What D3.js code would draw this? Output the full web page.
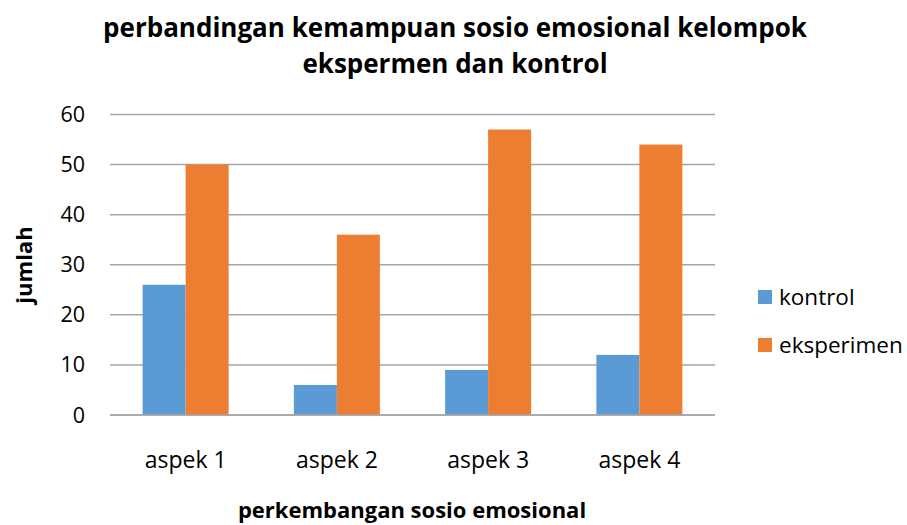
<html lang='id'>
<head>
    <title>perbandingan kemampuan sosio emosional</title>
    <script src="https://d3js.org/d3.v7.min.js"></script>
    <style>
        body { margin: 0; background: #fff; }
        text { font-family: 'Open Sans', sans-serif; fill: #000; }
    </style>
</head>
<body>
<script>
    // data
    var categories = ['aspek 1', 'aspek 2', 'aspek 3', 'aspek 4'];
    var seriesNames = ['kontrol', 'eksperimen'];
    var kontrol = [26, 6, 9, 12];
    var eksperimen = [50, 36, 57, 54];
    var yTicks = [0, 10, 20, 30, 40, 50, 60];
    var colors = ['#5B9BD5', '#ED7D31'];

    // canvas
    var width = 907, height = 525;
    var plot = { left: 110, right: 715, top: 114.5, bottom: 415 };

    var svg = d3.select('body').append('svg')
        .attr('width', width).attr('height', height);

    var x0 = d3.scaleBand().domain(categories)
        .range([plot.left, plot.right]).paddingInner(0.4314).paddingOuter(0.2157);
    var x1 = d3.scaleBand().domain(seriesNames).range([0, x0.bandwidth()]);
    var y = d3.scaleLinear().domain([0, 60]).range([plot.bottom, plot.top]);

    // gridlines
    svg.append('g').selectAll('line').data(yTicks).enter().append('line')
        .attr('x1', plot.left).attr('x2', plot.right)
        .attr('y1', function (d) { return y(d); }).attr('y2', function (d) { return y(d); })
        .attr('stroke', '#a6a6a6').attr('stroke-width', 1.5);

    // y axis labels
    svg.append('g').selectAll('text').data(yTicks).enter().append('text')
        .attr('x', 85).attr('y', function (d) { return y(d); })
        .attr('dy', '0.35em').attr('text-anchor', 'end')
        .attr('font-size', 21.5).text(function (d) { return d; });

    // bars
    var rows = categories.map(function (c, i) {
        return { cat: c, vals: [kontrol[i], eksperimen[i]] };
    });
    var groups = svg.append('g').selectAll('g').data(rows).enter().append('g')
        .attr('transform', function (d) { return 'translate(' + x0(d.cat) + ',0)'; });
    groups.selectAll('rect').data(function (d) {
        return d.vals.map(function (v, j) { return { name: seriesNames[j], v: v, j: j }; });
    }).enter().append('rect')
        .attr('x', function (d) { return x1(d.name); })
        .attr('width', x1.bandwidth())
        .attr('y', function (d) { return y(d.v); })
        .attr('height', function (d) { return y(0) - y(d.v); })
        .attr('fill', function (d) { return colors[d.j]; });

    // baseline
    svg.append('line').attr('x1', plot.left).attr('x2', plot.right)
        .attr('y1', y(0)).attr('y2', y(0))
        .attr('stroke', '#a6a6a6').attr('stroke-width', 1.5);

    // x labels
    svg.append('g').selectAll('text').data(categories).enter().append('text')
        .attr('x', function (d) { return x0(d) + x0.bandwidth() / 2; })
        .attr('y', 468).attr('text-anchor', 'middle')
        .attr('font-size', 23).text(function (d) { return d; });

    // title
    var title = svg.append('text').attr('text-anchor', 'middle')
        .attr('font-size', 26).attr('font-weight', 'bold');
    title.append('tspan').attr('x', 455).attr('y', 37)
        .text('perbandingan kemampuan sosio emosional kelompok');
    title.append('tspan').attr('x', 455).attr('y', 73)
        .text('ekspermen dan kontrol');

    // axis titles
    svg.append('text').attr('transform', 'translate(32,265) rotate(-90)')
        .attr('text-anchor', 'middle').attr('font-size', 22).attr('font-weight', 'bold')
        .text('jumlah');
    svg.append('text').attr('x', 412).attr('y', 518).attr('text-anchor', 'middle')
        .attr('font-size', 22).attr('font-weight', 'bold')
        .text('perkembangan sosio emosional');

    // legend
    var legend = svg.append('g').selectAll('g').data(seriesNames).enter().append('g')
        .attr('transform', function (d, i) { return 'translate(758,' + (290 + i * 48) + ')'; });
    legend.append('rect').attr('width', 14).attr('height', 14)
        .attr('fill', function (d, i) { return colors[i]; });
    legend.append('text').attr('x', 21).attr('y', 7).attr('dy', '0.35em')
        .attr('font-size', 22.5).text(function (d) { return d; });
</script>
</body>
</html>
